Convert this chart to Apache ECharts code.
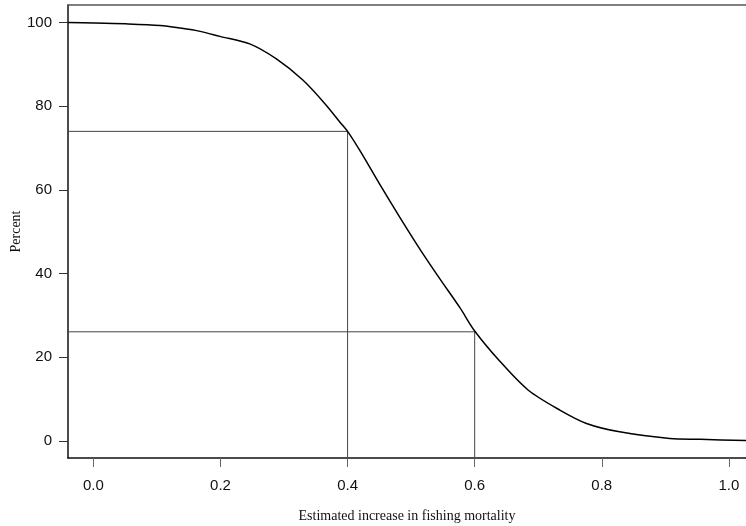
<!DOCTYPE html>
<html>
<head>
<meta charset="utf-8">
<script src="https://cdn.jsdelivr.net/npm/echarts@6/dist/echarts.min.js"></script>
<style>
html,body{margin:0;padding:0;background:#fff;}
#chart{width:746px;height:526px;}
</style>
</head>
<body>
<div id="chart"></div>
<script>
// curve
var fishX = [-0.04, 0.0, 0.05, 0.105, 0.136, 0.168, 0.199, 0.246, 0.288, 0.33, 0.365, 0.388, 0.4, 0.419, 0.45, 0.482, 0.514, 0.545, 0.577, 0.6, 0.64, 0.684, 0.734, 0.776, 0.828, 0.907, 0.955, 1.03];
var percentY = [100, 99.9, 99.7, 99.3, 98.7, 97.9, 96.7, 94.9, 91.3, 86.2, 80.5, 76.2, 74.0, 69.5, 61.5, 53.5, 45.8, 38.8, 31.8, 26.3, 19.0, 12.2, 7.4, 4.2, 2.2, 0.6, 0.4, 0.1];
// reference cuts
var cutX = [0.4, 0.6];
var cutY = [74.0, 26.1];
var xTicks = [0, 0.2, 0.4, 0.6, 0.8, 1.0];
var yTicks = [0, 20, 40, 60, 80, 100];

var xMin = -0.04, xMax = 1.027, yMin = -4.06, yMax = 104.2;

var curve = fishX.map(function (x, i) { return [x, percentY[i]]; });
var guides = [];
cutX.forEach(function (cx, i) {
  guides.push([[xMin, cutY[i]], [cx, cutY[i]]]);
  guides.push([[cx, yMin], [cx, cutY[i]]]);
});

var myChart = echarts.init(document.getElementById('chart'));
var option = {
  backgroundColor: '#fff',
  animation: false,
  grid: { left: 68, right: 0, top: 5, bottom: 68, outerBoundsMode: 'none', containLabel: false },
  xAxis: [{
    type: 'value',
    min: xMin,
    max: xMax,
    name: 'Estimated increase in fishing mortality',
    nameLocation: 'middle',
    nameGap: 51,
    nameTextStyle: { fontFamily: 'Liberation Serif', fontSize: 14, color: '#111' },
    splitLine: { show: false },
    axisLine: { onZero: false, lineStyle: { color: '#111', width: 1.5 } },
    axisTick: { length: 9, lineStyle: { color: '#666', width: 1 }, customValues: xTicks },
    axisLabel: {
      customValues: xTicks,
      margin: 20,
      fontFamily: 'Liberation Sans',
      fontSize: 15,
      color: '#111',
      formatter: function (v) { return v.toFixed(1); }
    }
  }, {
    type: 'value',
    position: 'top',
    min: xMin,
    max: xMax,
    splitLine: { show: false },
    axisLine: { onZero: false, lineStyle: { color: '#555', width: 1.5 } },
    axisTick: { show: false },
    axisLabel: { show: false }
  }],
  yAxis: {
    type: 'value',
    min: yMin,
    max: yMax,
    name: 'Percent',
    nameLocation: 'middle',
    nameGap: 45,
    nameMoveOverlap: false,
    nameTextStyle: { fontFamily: 'Liberation Serif', fontSize: 14, color: '#111' },
    splitLine: { show: false },
    axisLine: { show: true, onZero: false, lineStyle: { color: '#111', width: 1.5 } },
    axisTick: { show: true, length: 9, lineStyle: { color: '#333', width: 1 }, customValues: yTicks },
    axisLabel: {
      customValues: yTicks,
      margin: 16,
      fontFamily: 'Liberation Sans',
      fontSize: 15,
      color: '#111'
    }
  },
  series: [{
    type: 'line',
    data: curve,
    showSymbol: false,
    smooth: 0.3,
    lineStyle: { color: '#000', width: 1.5 },
    z: 3
  }].concat(guides.map(function (seg) {
    return {
      type: 'line',
      data: seg,
      showSymbol: false,
      lineStyle: { color: '#444', width: 1 },
      z: 2
    };
  }))
};
myChart.setOption(option);
</script>
</body>
</html>
